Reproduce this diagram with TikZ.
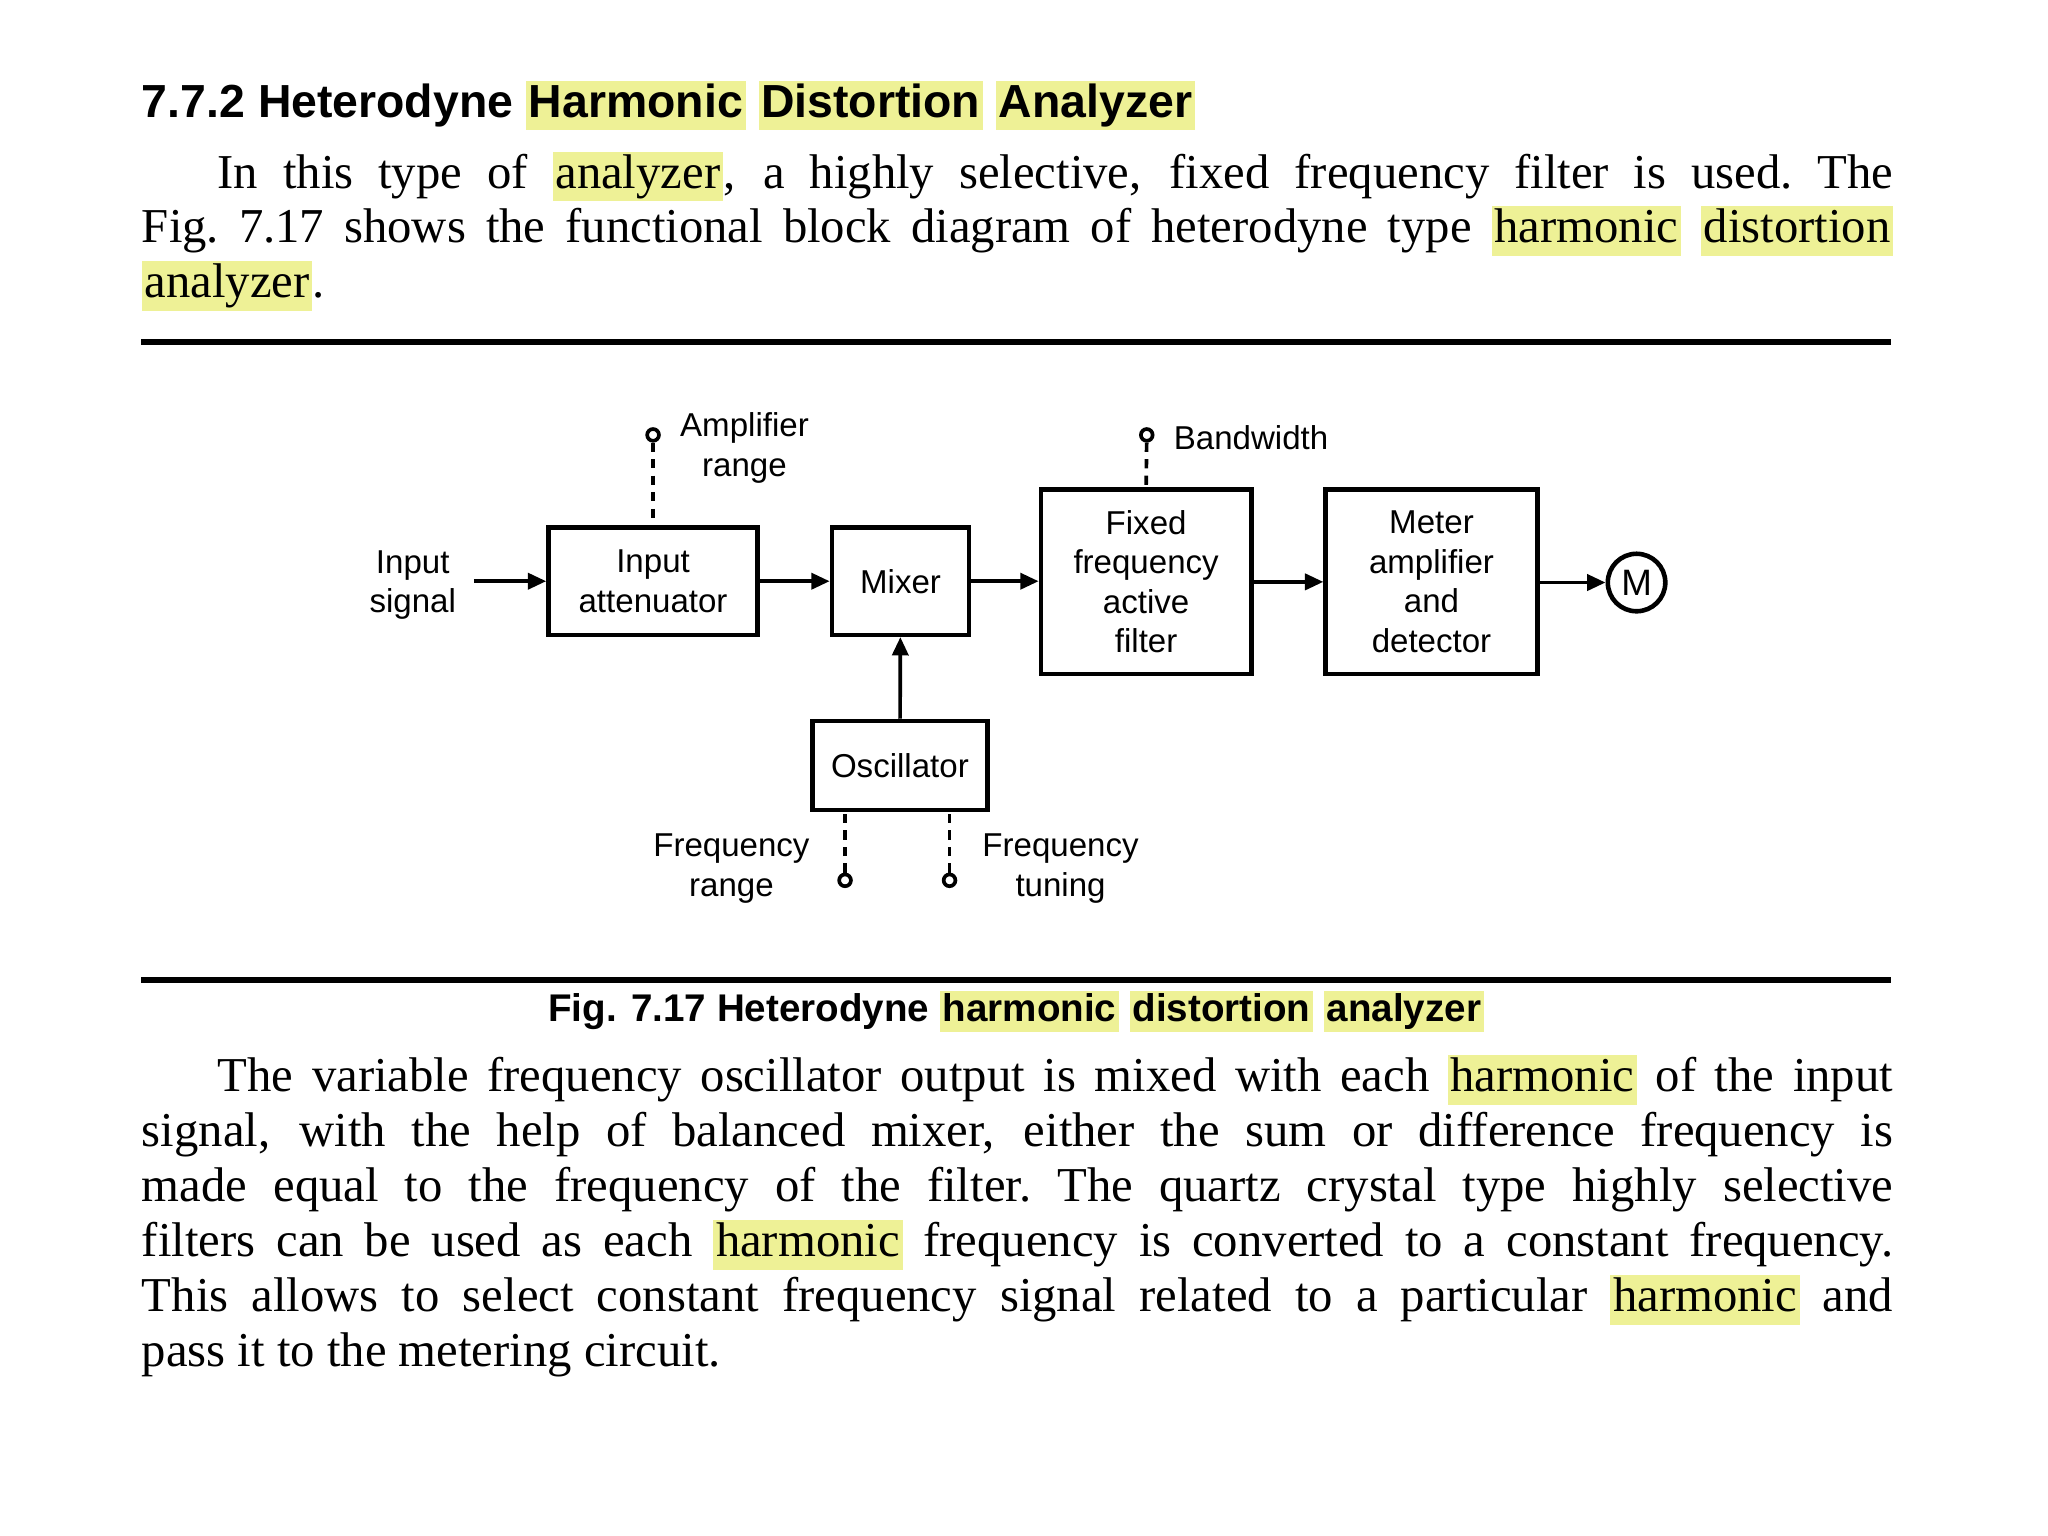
\documentclass[tikz,border=0pt]{standalone}
\usepackage{fontspec}
\setmainfont{Liberation Serif}
\setsansfont{Liberation Sans}
\usetikzlibrary{arrows.meta}
\definecolor{hly}{RGB}{238,241,150}
\newcommand\hl[1]{{\setlength\fboxsep{0.6pt}\colorbox{hly}{\vphantom{Hg}#1}}}
\newcommand\bl[1]{\makebox[13.4cm][s]{#1}}
\tikzset{
  blk/.style={draw,line width=1pt,align=center,font=\sffamily\fontsize{7.2}{8.6}\selectfont,inner sep=0pt},
  lbl/.style={align=center,font=\sffamily\fontsize{7.2}{8.6}\selectfont,inner sep=0pt},
  arr/.style={-{Triangle[length=4pt,width=3.5pt]},line width=0.8pt},
  dsh/.style={line width=0.8pt,dash pattern=on 2pt off 1.6pt},
  term/.style={circle,draw,line width=0.8pt,inner sep=0pt,minimum size=0.09cm},
  body/.style={anchor=base west,inner sep=0pt,font=\fontsize{10.6}{12}\selectfont},
}
\begin{document}
\begin{tikzpicture}[x=0.01cm,y=-0.01cm]
\useasboundingbox (0,0) rectangle (1568,1176);
% heading
\node[anchor=base west,inner sep=0pt,font=\sffamily\bfseries\fontsize{10.1}{12}\selectfont] (h) at (108,90) {7.7.2 Heterodyne \hl{Harmonic} \hl{Distortion} \hl{Analyzer}};
\node[body] (p1) at (166,144) {\makebox[12.82cm][s]{In this type of \hl{analyzer}, a highly selective, fixed frequency filter is used.\ The}};
\node[body] (p2) at (108,186) {\bl{Fig.\ 7.17 shows the functional block diagram of heterodyne type \hl{harmonic} \hl{distortion}}};
\node[body] (p3) at (108,228) {\hl{analyzer}.};
\draw[line width=1.3pt] (108,262) coordinate (r1) -- (1448,262) coordinate (r2);
\draw[line width=1.3pt] (108,750) coordinate (r3) -- (1448,750) coordinate (r4);
% blocks
\node[blk,minimum width=1.6cm,minimum height=0.82cm] (att) at (500,445) {Input\\attenuator};
\node[blk,minimum width=1.05cm,minimum height=0.82cm] (mix) at (689.5,445) {Mixer};
\node[blk,minimum width=1.61cm,minimum height=1.41cm] (fil) at (877.5,445.5) {Fixed\\frequency\\active\\filter};
\node[blk,minimum width=1.62cm,minimum height=1.41cm] (met) at (1096,445.5) {Meter\\amplifier\\and\\detector};
\node[blk,minimum width=1.34cm,minimum height=0.68cm] (osc) at (689,586) {Oscillator};
\node[circle,draw,line width=1pt,minimum size=0.44cm,inner sep=0pt,font=\sffamily\fontsize{8}{9}\selectfont] (M) at (1253,446) {M};
\node[lbl] (in) at (316,448) {Input\\signal};
\draw[arr] ([xshift=0.13cm]in.east|-att) -- (att.west);
\draw[arr] (att) -- (mix);
\draw[arr] (mix) -- (fil.west|-mix);
\draw[arr] (fil) -- (met);
\draw[arr] (met.east|-M) -- (M);
\draw[arr] (osc) -- (mix);
% controls
\node[term] (t1) at (500,333) {};
\draw[dsh] (t1) -- (att.north);
\node[lbl] (l1) at (570,343) {Amplifier\\range};
\node[term] (t2) at (878,333) {};
\draw[dsh] (t2) -- (fil.north);
\node[lbl,anchor=west] (l2) at (898,335) {Bandwidth};
\node[term] (t3) at (647,674) {};
\draw[dsh] (t3) -- (osc.south-|t3);
\node[lbl] (l3) at (560,665) {Frequency\\range};
\node[term] (t4) at (727,674) {};
\draw[dsh] (t4) -- (osc.south-|t4);
\node[lbl] (l4) at (812,665) {Frequency\\tuning};
% caption
\node[anchor=base,inner sep=0pt,font=\sffamily\bfseries\fontsize{8.4}{10}\selectfont] (cap) at (778,782) {Fig. 7.17 Heterodyne \hl{harmonic} \hl{distortion} \hl{analyzer}};
\node[body] (q1) at (166,836) {\makebox[12.82cm][s]{The variable frequency oscillator output is mixed with each \hl{harmonic} of the input}};
\node[body] (q2) at (108,878) {\bl{signal, with the help of balanced mixer, either the sum or difference frequency is}};
\node[body] (q3) at (108,920) {\bl{made equal to the frequency of the filter.\ The quartz crystal type highly selective}};
\node[body] (q4) at (108,962) {\bl{filters can be used as each \hl{harmonic} frequency is converted to a constant frequency.}};
\node[body] (q5) at (108,1004) {\bl{This allows to select constant frequency signal related to a particular \hl{harmonic} and}};
\node[body] (q6) at (108,1046) {pass it to the metering circuit.};
\end{tikzpicture}
\end{document}
